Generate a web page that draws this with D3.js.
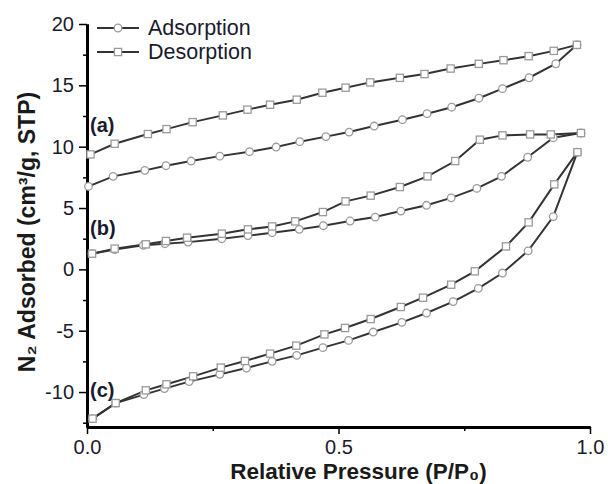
<!DOCTYPE html>
<meta charset="utf-8">
<style>
    body { margin: 0; background: #fff; }
    svg { font-family: "Liberation Sans", Arial, sans-serif; }
    .axis path, .axis line { stroke: #000; }
    .axis path { stroke-width: 3; }
    .axis line { stroke-width: 1.5; }
    .axis text { font-size: 20px; fill: #1a1a2e; }
    .iso { fill: none; stroke: #333; stroke-width: 2; }
    .mk { fill: #fff; stroke: #9a9a9a; stroke-width: 1.3; }
    .title { font-size: 23px; font-weight: bold; fill: #1a1a1a; }
    .title.x-title { font-size: 22.5px; }
    .tag { font-size: 20px; font-weight: bold; fill: #1a1a2e; }
    .legend text { font-size: 21.5px; fill: #1a1a2e; }
</style>
<svg width="608" height="484"></svg>
<script src="https://cdn.jsdelivr.net/npm/d3@7/dist/d3.min.js"></script>
<script>

    // sample (a)
    var aAdsX = [0.003,0.052,0.115,0.157,0.207,0.264,0.323,0.376,0.423,0.475,0.521,0.571,0.627,0.676,0.725,0.779,0.826,0.879,0.932,0.974];
    var aAdsY = [6.76,7.58,8.07,8.45,8.83,9.23,9.59,9.97,10.41,10.82,11.19,11.68,12.20,12.69,13.22,13.95,14.73,15.62,16.76,18.30];
    var aDesX = [0.007,0.055,0.121,0.158,0.210,0.270,0.319,0.364,0.417,0.468,0.514,0.563,0.622,0.671,0.723,0.779,0.828,0.878,0.928,0.974];
    var aDesY = [9.37,10.24,11.03,11.43,12.00,12.55,13.02,13.42,13.83,14.40,14.81,15.24,15.61,15.92,16.37,16.75,17.05,17.38,17.81,18.30];

    // sample (b)
    var bAdsX = [0.010,0.055,0.112,0.155,0.201,0.268,0.320,0.368,0.422,0.470,0.523,0.573,0.624,0.675,0.724,0.775,0.824,0.876,0.927,0.982];
    var bAdsY = [1.28,1.61,1.96,2.09,2.22,2.50,2.75,2.99,3.26,3.56,3.94,4.26,4.75,5.22,5.83,6.60,7.58,9.14,10.73,11.11];
    var bDesX = [0.010,0.055,0.117,0.157,0.199,0.268,0.320,0.368,0.414,0.469,0.514,0.564,0.622,0.677,0.732,0.781,0.826,0.881,0.922,0.982];
    var bDesY = [1.28,1.69,2.04,2.31,2.58,2.91,3.26,3.50,3.91,4.67,5.54,6.01,6.71,7.58,8.83,10.57,10.92,11.00,11.00,11.11];

    // sample (c)
    var cAdsX = [0.011,0.057,0.113,0.154,0.203,0.264,0.317,0.368,0.417,0.469,0.520,0.569,0.626,0.675,0.728,0.778,0.826,0.877,0.927,0.975];
    var cAdsY = [-12.17,-10.90,-10.21,-9.72,-9.15,-8.56,-8.04,-7.50,-7.01,-6.38,-5.79,-5.11,-4.32,-3.56,-2.63,-1.55,-0.30,1.51,4.30,9.55];
    var cDesX = [0.011,0.057,0.117,0.158,0.211,0.266,0.314,0.364,0.416,0.472,0.513,0.564,0.624,0.668,0.724,0.771,0.833,0.878,0.929,0.975];
    var cDesY = [-12.17,-10.90,-9.86,-9.37,-8.72,-8.01,-7.47,-6.87,-6.22,-5.30,-4.78,-4.05,-3.07,-2.31,-1.25,-0.16,1.87,3.83,6.93,9.55];

    var xTicks = [0, 0.5, 1.0];
    var xMinor = [0.25, 0.75];
    var yTicks = [-10, -5, 0, 5, 10, 15, 20];
    var yMinor = [-12.5, -7.5, -2.5, 2.5, 7.5, 12.5, 17.5];

    var tagNames = ["(a)", "(b)", "(c)"];
    var tagY = [11.17, 2.77, -10.43];

    var svg = d3.select("svg");

    var x = d3.scaleLinear().domain([0, 1]).range([87, 590]),
        y = d3.scaleLinear().domain([-12.85, 20]).range([427, 24]);

    // minor ticks first, so the main axes sit on top
    svg.append("g")
            .attr("class", "axis")
            .attr("transform", "translate(0," + y.range()[0] + ")")
            .call(d3.axisBottom(x).tickValues(xMinor).tickSize(4).tickSizeOuter(0).tickFormat(""));
    svg.append("g")
            .attr("class", "axis")
            .attr("transform", "translate(" + x.range()[0] + ",0)")
            .call(d3.axisLeft(y).tickValues(yMinor.filter(function(v) { return v > y.domain()[0]; }))
                .tickSize(4).tickSizeOuter(0).tickFormat(""));

    svg.append("g")
            .attr("class", "axis axis--x")
            .attr("transform", "translate(0," + y.range()[0] + ")")
            .call(d3.axisBottom(x).tickValues(xTicks).tickSize(7).tickSizeOuter(0)
                .tickPadding(6).tickFormat(d3.format(".1f")));

    svg.append("g")
            .attr("class", "axis axis--y")
            .attr("transform", "translate(" + x.range()[0] + ",0)")
            .call(d3.axisLeft(y).tickValues(yTicks).tickSize(8).tickSizeOuter(0).tickPadding(5)
                .tickFormat(function(d) { return String(d); }));

    svg.selectAll(".axis text").attr("font-family", null);

    var line = d3.line()
            .x(function(d) { return x(d[0]); })
            .y(function(d) { return y(d[1]); });

    function pairs(xs, ys) {
        return xs.map(function(v, i) { return [v, ys[i]]; });
    }

    var branches = [
        {pts: pairs(aAdsX, aAdsY), kind: "ads"},
        {pts: pairs(aDesX, aDesY), kind: "des"},
        {pts: pairs(bAdsX, bAdsY), kind: "ads"},
        {pts: pairs(bDesX, bDesY), kind: "des"},
        {pts: pairs(cAdsX, cAdsY), kind: "ads"},
        {pts: pairs(cDesX, cDesY), kind: "des"}
    ];

    svg.selectAll(".iso")
            .data(branches)
            .enter().append("path")
            .attr("class", "iso")
            .attr("d", function(d) { return line(d.pts); });

    branches.forEach(function(b) {
        var g = svg.append("g");
        if (b.kind == "ads") {
            g.selectAll("circle")
                    .data(b.pts)
                    .enter().append("circle")
                    .attr("class", "mk")
                    .attr("cx", function(d) { return x(d[0]); })
                    .attr("cy", function(d) { return y(d[1]); })
                    .attr("r", 3.8);
        } else {
            g.selectAll("rect")
                    .data(b.pts)
                    .enter().append("rect")
                    .attr("class", "mk")
                    .attr("x", function(d) { return x(d[0]) - 3.6; })
                    .attr("y", function(d) { return y(d[1]) - 3.6; })
                    .attr("width", 7.2)
                    .attr("height", 7.2);
        }
    });

    // (a) (b) (c) labels
    svg.selectAll(".tag")
            .data(tagNames)
            .enter().append("text")
            .attr("class", "tag")
            .attr("x", x(0.006))
            .attr("y", function(d, i) { return y(tagY[i]); })
            .text(function(d) { return d; });

    // legend
    var legend = svg.append("g").attr("class", "legend");
    [["Adsorption", "ads"], ["Desorption", "des"]].forEach(function(e, i) {
        var ly = 28 + i * 24;
        legend.append("line")
                .attr("x1", 97).attr("x2", 139)
                .attr("y1", ly).attr("y2", ly)
                .attr("stroke", "#333").attr("stroke-width", 2);
        if (e[1] == "ads") {
            legend.append("circle").attr("class", "mk").attr("cx", 118).attr("cy", ly).attr("r", 3.8);
        } else {
            legend.append("rect").attr("class", "mk")
                    .attr("x", 118 - 3.6).attr("y", ly - 3.6).attr("width", 7.2).attr("height", 7.2);
        }
        legend.append("text")
                .attr("x", 148).attr("y", ly + 7)
                .text(e[0]);
    });

    // axis titles
    svg.append("text")
            .attr("class", "title x-title")
            .attr("x", (x.range()[0] + x.range()[1]) / 2 + 20)
            .attr("y", 479)
            .attr("text-anchor", "middle")
            .text("Relative Pressure (P/P₀)");

    svg.append("text")
            .attr("class", "title")
            .attr("transform", "translate(35," + 232 + ") rotate(-90)")
            .attr("text-anchor", "middle")
            .text("N₂ Adsorbed (cm³/g, STP)");

</script>
